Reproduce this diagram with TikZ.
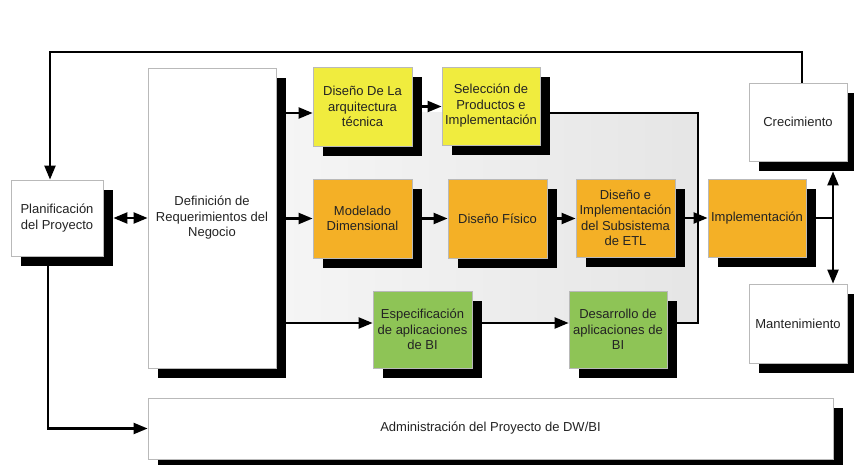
\documentclass[tikz,border=0pt]{standalone}
\usepackage{fontspec}
\setmainfont{Liberation Sans}
\usetikzlibrary{arrows.meta,shadows}
\definecolor{boxyellow}{RGB}{240,236,62}
\definecolor{boxorange}{RGB}{244,176,38}
\definecolor{boxgreen}{RGB}{142,196,86}
\definecolor{txt}{RGB}{35,35,35}
\tikzset{
  box/.style={draw=gray!55, line width=0.8pt, align=center, inner sep=2pt,
    font=\fontsize{13}{15.5}\selectfont, text=txt,
    drop shadow={shadow xshift=10pt, shadow yshift=-10pt, fill=black, opacity=1}},
  wbox/.style={box, fill=white},
  ybox/.style={box, fill=boxyellow},
  obox/.style={box, fill=boxorange},
  gbox/.style={box, fill=boxgreen},
  conn/.style={line width=2.2pt, draw=black},
  arr/.style={conn, -{Triangle[length=14pt,width=11pt]}},
  darr/.style={conn, {Triangle[length=14pt,width=11pt]}-{Triangle[length=14pt,width=11pt]}}
}
\begin{document}
\begin{tikzpicture}[x=1pt,y=-1pt]
\useasboundingbox (0,0) rectangle (854,465);
% gray region
\shade[left color=gray!8, right color=gray!20] (286,113) rectangle (698,323);

% nodes
\node[wbox, minimum width=92pt, minimum height=76pt] (plan) at (57,218) {Planificación\\del Proyecto};
\node[wbox, minimum width=128pt, minimum height=300pt] (def) at (212,218) {Definición de\\Requerimientos del\\Negocio};
\node[ybox, minimum width=99pt, minimum height=79pt] (dis) at (362.5,106.5) {Diseño De La\\arquitectura\\técnica};
\node[ybox, minimum width=98pt, minimum height=78pt] (sel) at (491,106) {Selección de\\Productos e\\Implementación};
\node[obox, minimum width=99pt, minimum height=79pt] (mod) at (362.5,218.5) {Modelado\\Dimensional};
\node[obox, minimum width=99pt, minimum height=79pt] (fis) at (497.5,218.5) {Diseño Físico};
\node[obox, minimum width=99pt, minimum height=78pt] (etl) at (625.5,218) {Diseño e\\Implementación\\del Subsistema\\de ETL};
\node[obox, minimum width=98pt, minimum height=78pt] (imp) at (757,218) {Implementación};
\node[wbox, minimum width=98pt, minimum height=78pt] (cre) at (798,122) {Crecimiento};
\node[wbox, minimum width=98pt, minimum height=79pt] (man) at (798,323.5) {Mantenimiento};
\node[gbox, minimum width=99pt, minimum height=77pt] (esp) at (422.5,329.5) {Especificación\\de aplicaciones\\de BI};
\node[gbox, minimum width=98pt, minimum height=77pt] (des) at (618,329.5) {Desarrollo de\\aplicaciones de\\BI};
\node[wbox, minimum width=685pt, minimum height=61pt] (adm) at (490.5,428.5) {Administración del Proyecto de DW/BI};

% helper coordinates
\coordinate (dE) at ([xshift=10pt]def.east);
\coordinate (disIn) at ([yshift=-6.5pt]dis.west);
\coordinate (espIn) at ([yshift=6.5pt]esp.west);
\coordinate (selOut) at ([xshift=10pt,yshift=-7pt]sel.east);
\coordinate (desOut) at ([xshift=10pt,yshift=6.5pt]des.east);
\coordinate (g1) at (698,113);
\coordinate (g2) at (698,323);
\coordinate (top) at (802,52);
\coordinate (jn) at (833,218);

% connectors
\draw[arr] ([xshift=4pt]cre.north) -- (top) -| ([xshift=-7pt]plan.north);
\draw[darr] ([xshift=10pt]plan.east) -- (def.west |- plan.east);
\draw[arr] ([xshift=-9pt,yshift=-10pt]plan.south) |- (adm.west);
\draw[arr] (dE |- disIn) -- (disIn);
\draw[arr] ([xshift=10pt]dis.east) -- (sel.west |- dis.east);
\draw[conn] (selOut) -- (g1) -- (g2) -- (desOut);
\draw[arr] (dE |- mod.west) -- (mod.west);
\draw[arr] ([xshift=10pt]mod.east) -- (fis.west);
\draw[arr] ([xshift=10pt]fis.east) -- (etl.west |- fis.east);
\draw[arr] ([xshift=10pt]etl.east) -- (imp.west);
\draw[conn] ([xshift=10pt]imp.east) -- (jn);
\draw[darr] ([xshift=35pt,yshift=-10pt]cre.south) -- ([xshift=35pt]man.north);
\draw[arr] (dE |- espIn) -- (espIn);
\draw[arr] ([xshift=10pt]esp.east |- espIn) -- (des.west |- espIn);
\end{tikzpicture}
\end{document}
